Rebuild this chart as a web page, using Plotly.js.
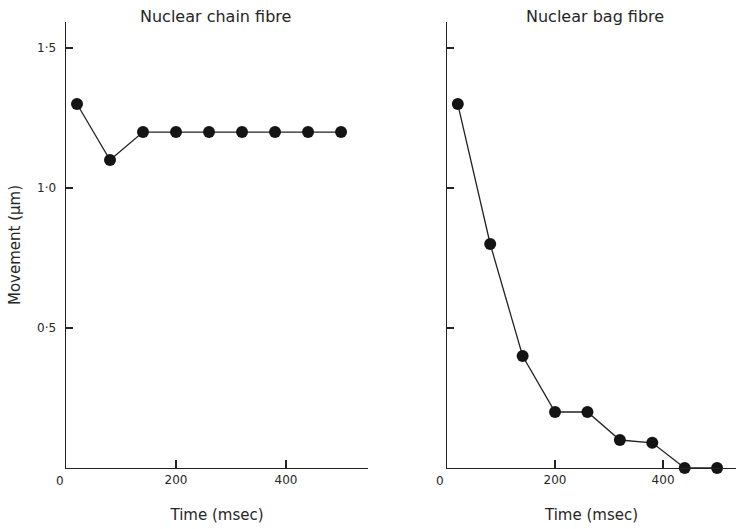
<!DOCTYPE html>
<html>
<head>
<meta charset="utf-8">
<script src="https://cdn.plot.ly/plotly-3.0.1.min.js"></script>
<style>html,body{margin:0;padding:0;background:#fff;}#chart{width:736px;height:529px;}</style>
</head>
<body>
<div id="chart"></div>
<script>
var timeMs = [20, 80, 140, 200, 260, 320, 380, 440, 500];
var chainMovement = [1.30, 1.10, 1.20, 1.20, 1.20, 1.20, 1.20, 1.20, 1.20];
var bagMovement = [1.30, 0.80, 0.40, 0.20, 0.20, 0.10, 0.09, 0.00, 0.00];
var xTickVals = [200, 400];
var xTickText = ['200', '400'];
var yTickVals = [0.5, 1.0, 1.5];
var yTickText = ['0·5', '1·0', '1·5'];
var panelTitles = ['Nuclear chain fibre', 'Nuclear bag fibre'];

var ink = '#222';
var fontFam = '"DejaVu Sans", "Open Sans", sans-serif';
var txt = '#262626';

function trace(y, xa, ya) {
  return {
    x: timeMs, y: y, xaxis: xa, yaxis: ya, type: 'scatter', mode: 'lines+markers',
    line: {color: ink, width: 1.3},
    marker: {color: '#141414', size: 12},
    cliponaxis: false, hoverinfo: 'skip'
  };
}

var data = [trace(chainMovement, 'x', 'y'), trace(bagMovement, 'x2', 'y2')];

var xBase = {
  showgrid: false, zeroline: false, showline: true, linecolor: ink, linewidth: 1.4,
  ticks: 'inside', ticklen: 8, tickwidth: 1.3, tickcolor: ink,
  tickvals: xTickVals, ticktext: xTickText,
  tickfont: {family: fontFam, size: 12, color: txt},
  title: {text: 'Time (msec)', font: {family: fontFam, size: 15, color: txt}, standoff: 23},
  fixedrange: true
};
var yBase = {
  showgrid: false, zeroline: false, showline: true, linecolor: ink, linewidth: 1.4,
  ticks: 'inside', ticklen: 7, tickwidth: 1.3, tickcolor: ink,
  tickvals: yTickVals, range: [0, 1.593],
  tickfont: {family: fontFam, size: 12, color: txt},
  fixedrange: true
};

var layout = {
  width: 736, height: 529,
  margin: {l: 0, r: 0, t: 0, b: 0},
  paper_bgcolor: '#fff', plot_bgcolor: 'rgba(0,0,0,0)',
  showlegend: false,
  xaxis: Object.assign({}, xBase, {domain: [66/736, 368/736], range: [0, 549], anchor: 'y'}),
  yaxis: Object.assign({}, yBase, {domain: [61/529, 507/529], anchor: 'x',
    ticktext: yTickText, ticklabelstandoff: 6,
    title: {text: 'Movement (µm)', font: {family: fontFam, size: 15, color: txt}, standoff: 13}}),
  xaxis2: Object.assign({}, xBase, {domain: [447/736, 1], range: [0, 535], anchor: 'y2'}),
  yaxis2: Object.assign({}, yBase, {domain: [61/529, 507/529], anchor: 'x2', showticklabels: false}),
  annotations: [
    {text: panelTitles[0], xref: 'paper', yref: 'paper', x: 215/736, y: 1 - 17/529, showarrow: false,
     font: {family: fontFam, size: 16, color: txt}, xanchor: 'center', yanchor: 'middle'},
    {text: panelTitles[1], xref: 'paper', yref: 'paper', x: 595/736, y: 1 - 17/529, showarrow: false,
     font: {family: fontFam, size: 16, color: txt}, xanchor: 'center', yanchor: 'middle'},
    {text: '0', xref: 'x', yref: 'y', x: 0, y: 0, xshift: -6, yshift: -13, showarrow: false,
     font: {family: fontFam, size: 12, color: txt}},
    {text: '0', xref: 'x2', yref: 'y2', x: 0, y: 0, xshift: -7, yshift: -13, showarrow: false,
     font: {family: fontFam, size: 12, color: txt}}
  ]
};

Plotly.newPlot('chart', data, layout, {displayModeBar: false, staticPlot: true});
</script>
</body>
</html>
